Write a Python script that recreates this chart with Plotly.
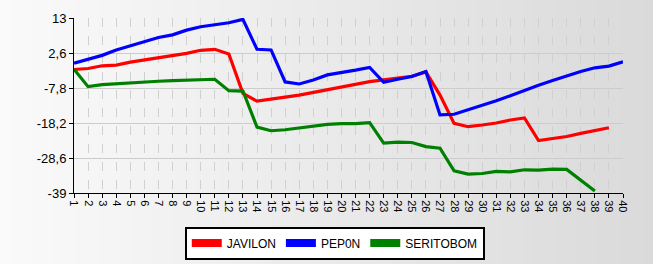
import plotly.graph_objects as go

x_vals = list(range(1, 41))
javilon = [-2.3, -2.0, -1.2, -1.0, -0.1, 0.5, 1.3, 1.9, 2.5, 3.4, 3.7, 2.3, -9.4, -11.7,
           -11.0, -10.5, -9.9, -9.1, -8.2, -7.6, -6.7, -5.9, -5.4, -4.9, -4.3, -3.0,
           -9.9, -18.3, -19.3, -18.8, -18.2, -17.3, -16.7, -23.4, -22.8, -22.2, -21.3,
           -20.5, -19.6, None]
pepon = [-0.4, 0.7, 1.9, 3.5, 4.8, 6.1, 7.2, 8.0, 9.4, 10.4, 11.1, 11.6, 12.6, 3.7,
         3.5, -6.0, -6.6, -5.4, -3.9, -3.3, -2.5, -1.7, -6.1, -5.2, -4.4, -2.9,
         -15.8, -15.6, -14.3, -12.9, -11.6, -10.1, -8.5, -7.0, -5.6, -4.2, -2.9,
         -1.8, -1.3, 0.0]
seritobom = [-2.2, -7.4, -6.8, -6.5, -6.3, -6.0, -5.8, -5.6, -5.4, -5.2, -5.2, -8.6,
             -8.7, -19.4, -20.5, -20.2, -19.6, -19.1, -18.6, -18.4, -18.4, -18.1,
             -24.2, -23.9, -24.0, -25.2, -25.7, -32.4, -33.4, -33.2, -32.6, -32.7,
             -32.1, -32.2, -31.9, -32.0, -35.1, -38.4, None, None]

series_names = ["JAVILON", "PEP0N", "SERITOBOM"]
series_colors = ["#ff0000", "#0000ff", "#008000"]
y_tickvals = [13, 2.6, -7.8, -18.2, -28.6, -39]
y_ticktext = ["13", "2,6", "-7,8", "-18,2", "-28,6", "-39"]

fig = go.Figure()

# background gradient bands (paper)
n_bands = 60
for i in range(n_bands):
    t = i / (n_bands - 1)
    c = int(round(250 - t * (250 - 218)))
    fig.add_shape(type="rect", xref="paper", yref="paper",
                  x0=-74 / 549 + i * (653 / 549) / n_bands,
                  x1=-74 / 549 + (i + 1) * (653 / 549) / n_bands + 0.002,
                  y0=-71 / 175 - 0.01, y1=1 + 18 / 175 + 0.01,
                  fillcolor=f"rgb({c},{c},{c})", line_width=0, layer="below")

for name, ys, col in zip(series_names, [javilon, pepon, seritobom], series_colors):
    fig.add_trace(go.Scatter(x=x_vals, y=ys, mode="lines", name=name,
                             line=dict(color=col, width=3.2), showlegend=False,
                             connectgaps=False))
for name, col in zip(series_names, series_colors):
    fig.add_trace(go.Scatter(x=[None], y=[None], mode="lines", name=name,
                             line=dict(color=col, width=8), showlegend=True))

fig.update_layout(
    width=653, height=264,
    margin=dict(l=74, r=30, t=18, b=71, autoexpand=False),
    paper_bgcolor="rgba(0,0,0,0)",
    plot_bgcolor="rgba(0,0,0,0)",
    font=dict(family="Liberation Sans, Arial, sans-serif", size=12, color="#000000"),
    showlegend=True,
    legend=dict(orientation="h", x=0.475, xanchor="center", yref="container",
                y=0.142, yanchor="top",
                bgcolor="#ffffff", bordercolor="#000000", borderwidth=2,
                font=dict(size=12, color="#000000"), itemwidth=30,
                traceorder="normal"),
)
fig.update_xaxes(range=[1, 40], tickmode="array", tickvals=x_vals,
                 ticktext=[str(v) for v in x_vals], tickangle=90,
                 tickfont=dict(size=11), showline=True, linecolor="#000000",
                 linewidth=1, ticks="outside", ticklen=4, tickcolor="#000000",
                 showgrid=True, gridcolor="#d0d0d0", griddash="dash", gridwidth=1,
                 zeroline=False, fixedrange=True, automargin=False)
fig.update_yaxes(range=[-39, 13], tickmode="array", tickvals=y_tickvals,
                 ticktext=y_ticktext, tickfont=dict(size=13),
                 showline=True, linecolor="#000000", linewidth=1,
                 ticks="outside", ticklen=4, tickcolor="#000000",
                 showgrid=True, gridcolor="#cccccc", gridwidth=1,
                 zeroline=False, fixedrange=True, automargin=False)

fig.write_html("out.html")
